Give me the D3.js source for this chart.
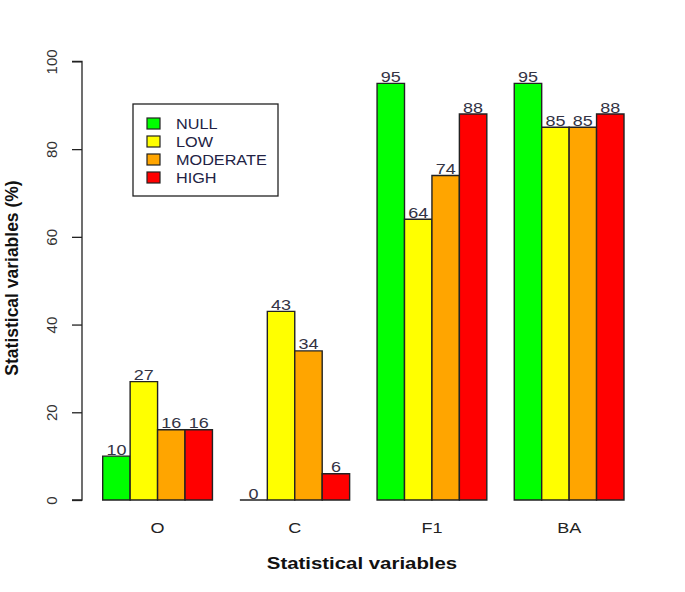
<!DOCTYPE html>
<html>
<head>
<meta charset="utf-8">
<script src="https://cdn.jsdelivr.net/npm/d3@7"></script>
<style>
  body { margin: 0; background: #fff; }
  svg { font-family: "Liberation Sans", Arial, sans-serif; }
</style>
</head>
<body>
<script>
// chart values
var categories = ["O", "C", "F1", "BA"];
var levels = ["NULL", "LOW", "MODERATE", "HIGH"];
var nullVals = [10, 0, 95, 95];
var lowVals = [27, 43, 64, 85];
var moderateVals = [16, 34, 74, 85];
var highVals = [16, 6, 88, 88];
var yTicks = [0, 20, 40, 60, 80, 100];
var colors = ["#00ff00", "#ffff00", "#ffa500", "#ff0000"];

var series = [nullVals, lowVals, moderateVals, highVals];

var w = 685, h = 592;
var stretch = 1.2; // the reference text looks a bit wide

var svg = d3.select("body").append("svg")
    .attr("width", w)
    .attr("height", h);

// bar units like R barplot(beside=TRUE): each group 4 bars + 1 gap
var x = d3.scaleLinear().domain([1, 20]).range([102.7, 624]);
var y = d3.scaleLinear().domain([0, 100]).range([500, 61.4]);

var bars = [];
categories.forEach(function(c, i) {
    series.forEach(function(s, j) {
        bars.push({ cat: c, level: j, value: s[i], pos: 1 + 5 * i + j });
    });
});

// paths so that a zero bar still shows its outline
svg.selectAll("path.bar")
    .data(bars)
    .enter()
    .append("path")
    .attr("class", "bar")
    .attr("d", function(d) {
        var x0 = x(d.pos), x1 = x(d.pos + 1), y0 = y(0), y1 = y(d.value);
        return "M" + x0 + "," + y0 + "H" + x1 + "V" + y1 + "H" + x0 + "Z";
    })
    .attr("fill", function(d) { return colors[d.level]; })
    .attr("stroke", "#222")
    .attr("stroke-width", 1.4);

svg.selectAll("text.val")
    .data(bars)
    .enter()
    .append("text")
    .attr("class", "val")
    .attr("transform", function(d) {
        return "translate(" + ((x(d.pos) + x(d.pos + 1)) / 2) + "," + (y(d.value) - 1.5) + ") scale(" + stretch + ",1)";
    })
    .attr("text-anchor", "middle")
    .attr("font-size", 15)
    .attr("fill", "#333344")
    .text(function(d) { return d.value; });

// y axis
var yAxis = d3.axisLeft(y).tickValues(yTicks).tickSize(10).tickPadding(10);
var gy = svg.append("g")
    .attr("transform", "translate(82,0)")
    .call(yAxis);
gy.select(".domain").attr("stroke", "#222").attr("stroke-width", 1.3)
    .attr("d", "M-10," + y(100) + "H0V" + y(0) + "H-10");
gy.selectAll(".tick line").attr("stroke", "#222").attr("stroke-width", 1.3);
gy.selectAll(".tick text")
    .attr("font-size", 15)
    .attr("fill", "#333")
    .attr("font-family", "Liberation Sans, Arial, sans-serif")
    .attr("text-anchor", "middle")
    .attr("transform", "translate(-30,0) rotate(-90)")
    .attr("x", 0)
    .attr("dy", "0.35em");

// x labels
svg.selectAll("text.cat")
    .data(categories)
    .enter()
    .append("text")
    .attr("class", "cat")
    .attr("transform", function(d, i) { return "translate(" + x(3 + 5 * i) + ",533) scale(" + stretch + ",1)"; })
    .attr("text-anchor", "middle")
    .attr("font-size", 15)
    .attr("fill", "#222")
    .text(function(d) { return d; });

// axis titles
svg.append("text")
    .attr("transform", "translate(362,569) scale(" + stretch + ",1)")
    .attr("text-anchor", "middle")
    .attr("font-size", 17)
    .attr("font-weight", "bold")
    .attr("fill", "#111")
    .text("Statistical variables");

svg.append("text")
    .attr("transform", "translate(18,278) scale(1.1,1) rotate(-90)")
    .attr("text-anchor", "middle")
    .attr("font-size", 17.5)
    .attr("font-weight", "bold")
    .attr("fill", "#111")
    .text("Statistical variables (%)");

// legend
var legend = svg.append("g");
legend.append("rect")
    .attr("x", 133).attr("y", 104)
    .attr("width", 145).attr("height", 92)
    .attr("fill", "none")
    .attr("stroke", "#222")
    .attr("stroke-width", 1.3);

var items = legend.selectAll("g.item")
    .data(levels)
    .enter()
    .append("g")
    .attr("class", "item")
    .attr("transform", function(d, i) { return "translate(0," + (124 + i * 18) + ")"; });

items.append("rect")
    .attr("x", 147).attr("y", -6)
    .attr("width", 13).attr("height", 11)
    .attr("fill", function(d, i) { return colors[i]; })
    .attr("stroke", "#222")
    .attr("stroke-width", 1.2);

items.append("text")
    .attr("transform", "translate(176,0) scale(1.12,1)")
    .attr("dy", "0.35em")
    .attr("font-size", 14.5)
    .attr("fill", "#222244")
    .text(function(d) { return d; });
</script>
</body>
</html>
